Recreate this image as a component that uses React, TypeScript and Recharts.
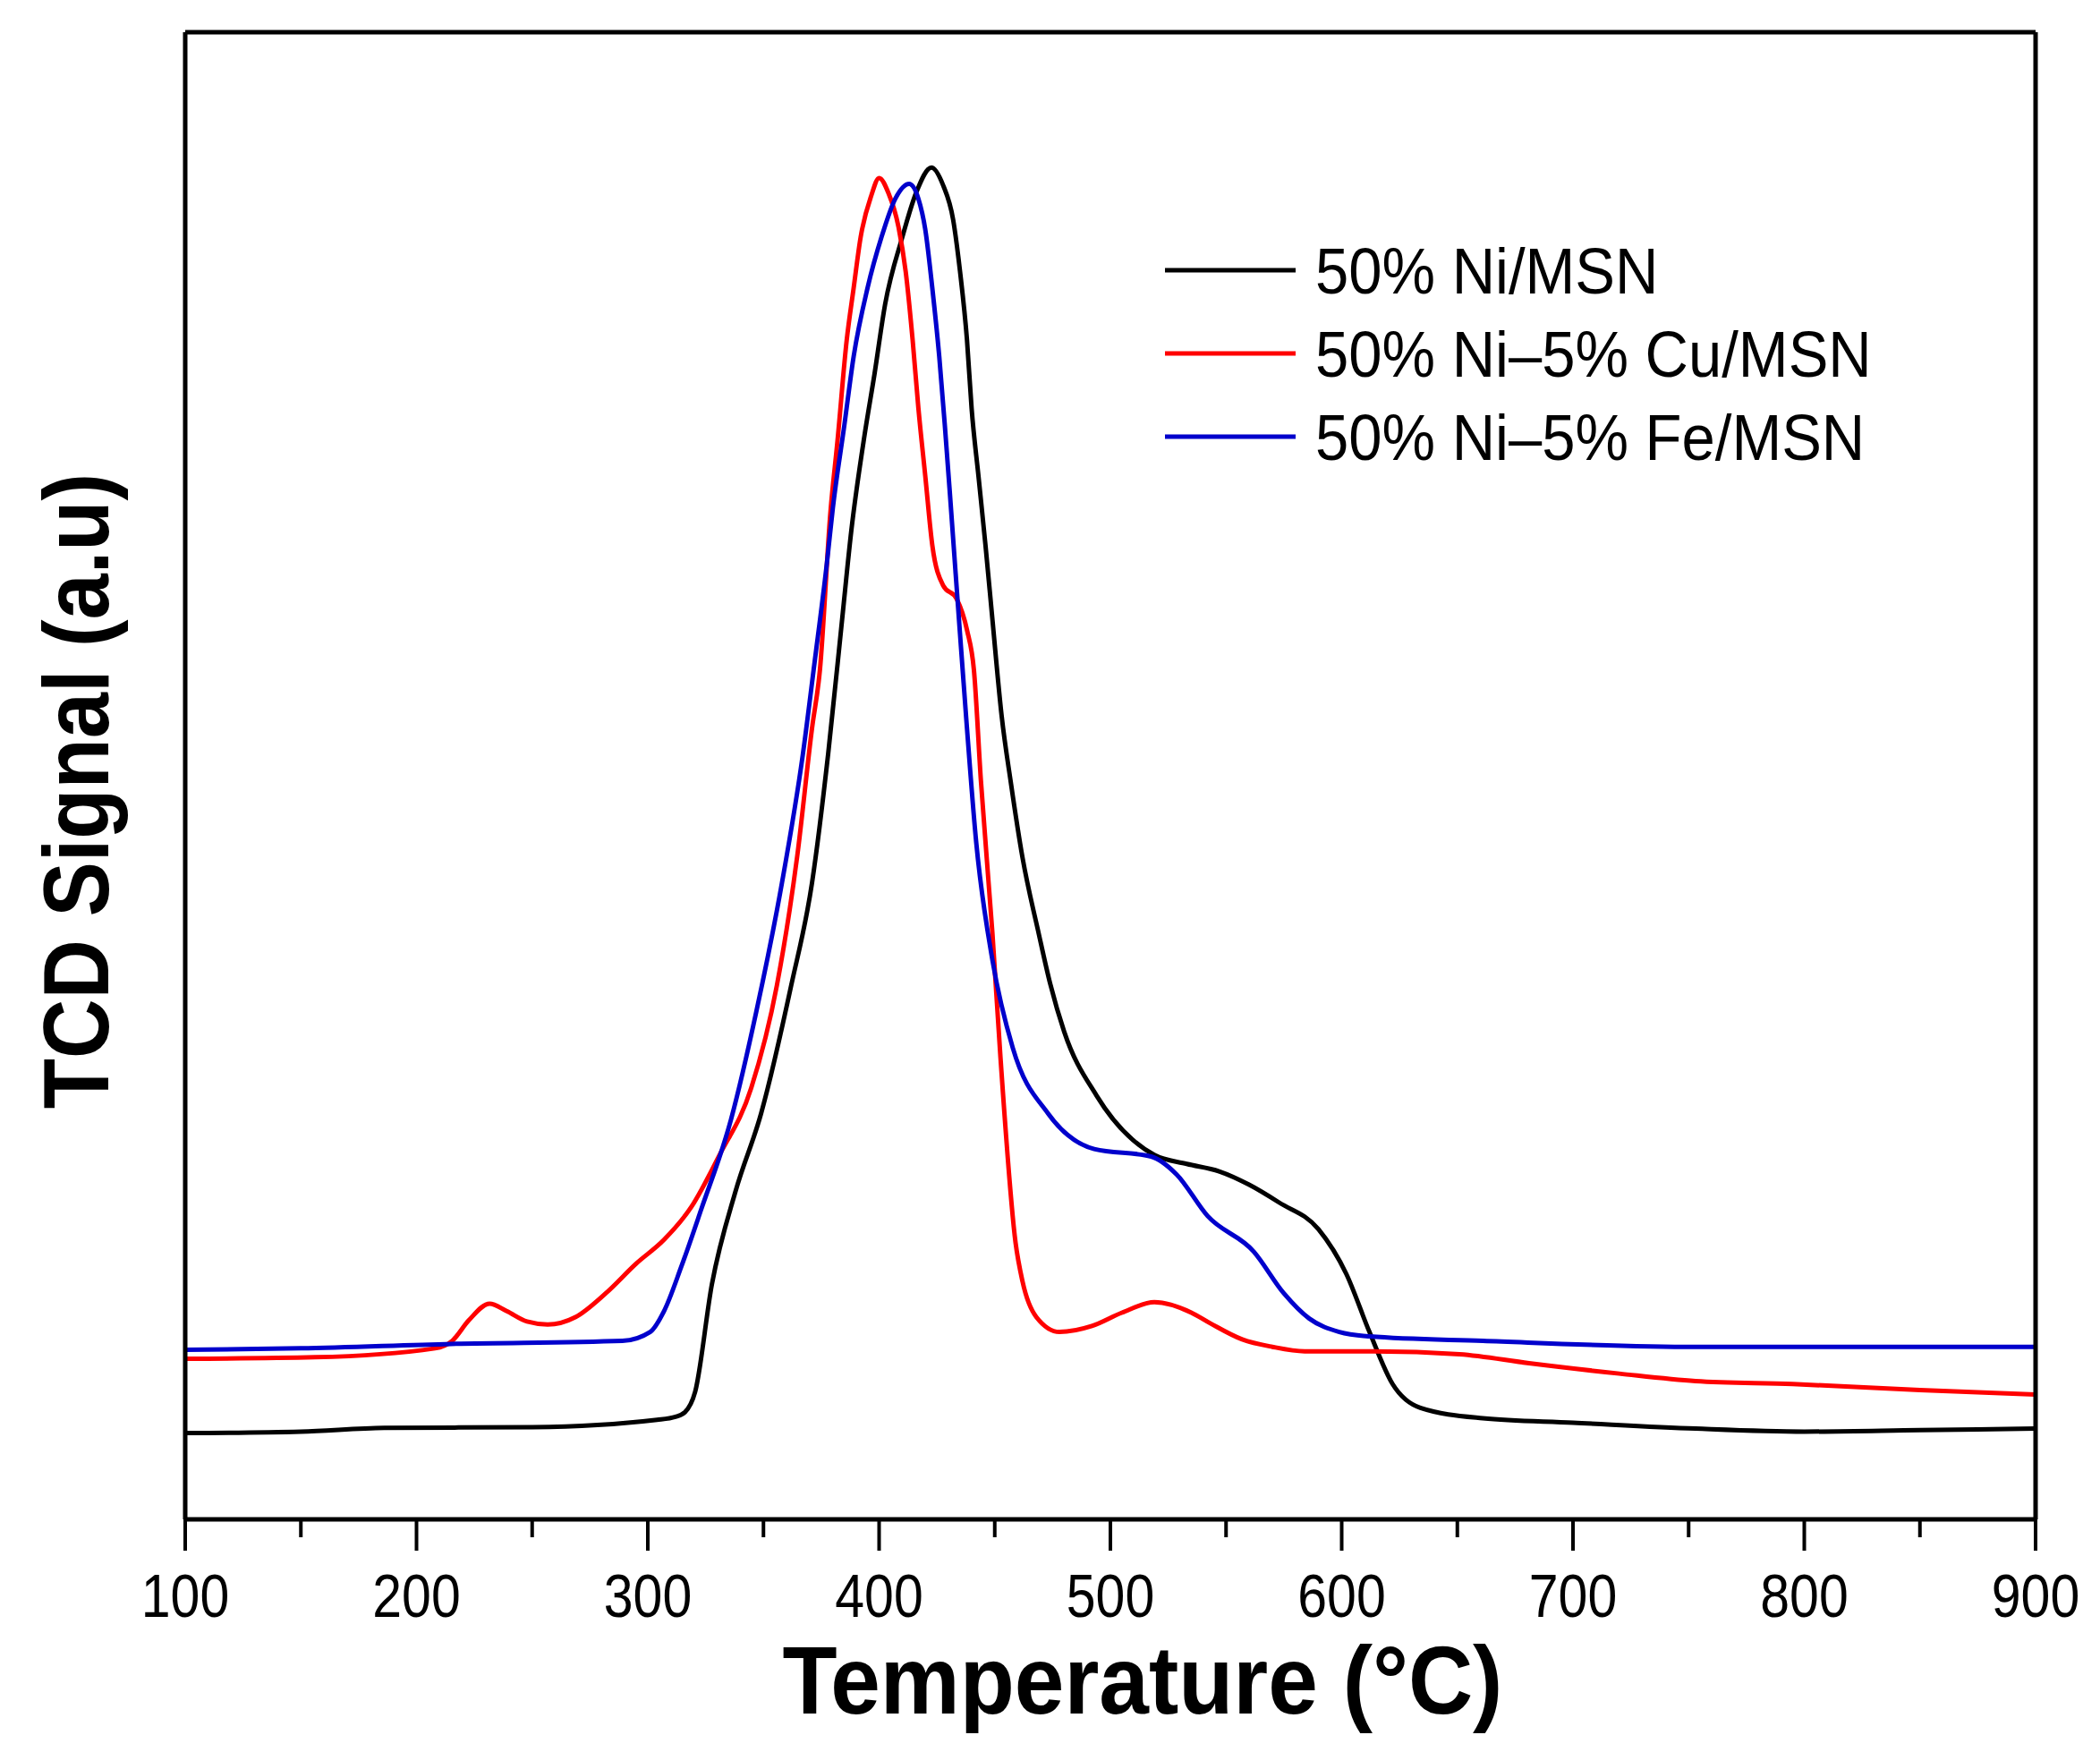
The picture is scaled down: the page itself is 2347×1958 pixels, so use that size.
import { LineChart, Line, XAxis, YAxis } from "recharts";

// readings taken off the TPR plot (signal in arbitrary units, 0-100 = plot height)
const niTemp = [100, 150, 186, 250, 304, 312, 316, 320.5, 327.7, 338, 349, 362, 371, 378, 384, 388, 393.7, 398, 402.6, 410, 416, 422.6, 427.7, 432, 435, 438, 440, 443, 446, 449, 453, 457, 462, 469, 474, 480, 494, 519, 533, 547, 560, 573, 590, 602, 612, 622, 634, 661, 700, 753, 800, 850, 900];
const niSignal = [5.8, 5.9, 6.15, 6.2, 6.7, 6.9, 7.2, 8.6, 15.8, 22.1, 27.3, 35.9, 42.8, 51.5, 60.5, 66.5, 72.9, 77.0, 81.7, 86.2, 89.2, 90.9, 89.7, 87.4, 83.9, 79.3, 74.7, 70.1, 65.5, 60.5, 54.0, 49.5, 44.5, 39.4, 36.0, 32.8, 28.5, 24.5, 23.9, 23.4, 22.5, 21.3, 19.5, 16.5, 12.6, 9.1, 7.5, 6.8, 6.5, 6.1, 5.9, 6.0, 6.1];

const cuTemp = [100, 156, 208, 215.4, 222.7, 231.6, 239, 247.8, 256.7, 268.7, 281.8, 295, 307, 318.8, 331, 344.7, 355.8, 364.6, 371, 374.4, 379, 382, 386, 389, 392, 396.6, 400, 404, 408.4, 411.5, 414.5, 417, 420, 423, 427.7, 433.5, 438, 441, 444, 449, 452.5, 459, 462, 468, 478, 492, 505, 519, 535, 543, 557, 570, 584, 614, 651, 681, 720, 753, 795, 850, 900];
const cuSignal = [10.8, 10.9, 11.5, 12.0, 13.4, 14.5, 14.0, 13.3, 13.1, 13.6, 15.2, 17.2, 18.8, 21.0, 24.5, 29.0, 35.9, 44.6, 53.2, 57.1, 67.8, 72.5, 79.3, 82.8, 86.2, 89.0, 90.2, 89.2, 86.9, 83.9, 79.3, 74.7, 70.1, 65.5, 62.8, 61.9, 59.8, 57.1, 49.7, 39.4, 31.0, 18.6, 16.0, 13.6, 12.6, 13.0, 13.9, 14.6, 13.9, 13.2, 12.1, 11.6, 11.3, 11.3, 11.1, 10.5, 9.8, 9.3, 9.1, 8.7, 8.4];

const feTemp = [100, 150, 215, 289, 301, 307, 314.5, 323, 336, 347, 358, 367, 372, 377.5, 380, 385, 389, 395, 401, 407, 413, 417, 420, 423, 426, 428.4, 430.6, 433, 435, 437.7, 442, 449, 457.8, 473, 493, 517.6, 528.6, 542, 562, 575, 586, 599, 612, 661, 753, 900];
const feSignal = [11.4, 11.5, 11.8, 12.0, 12.6, 14.0, 17.0, 20.8, 26.9, 34.2, 42.8, 51.4, 57.5, 64.4, 68.0, 73.6, 78.2, 82.8, 86.2, 88.8, 89.8, 88.8, 86.7, 82.8, 78.2, 73.6, 69.0, 63.8, 59.5, 53.8, 45.5, 37.6, 31.7, 27.3, 24.9, 24.4, 23.2, 20.4, 18.0, 15.2, 13.5, 12.6, 12.3, 12.0, 11.6, 11.6];

const seriesNames = ["50% Ni/MSN", "50% Ni\u20135% Cu/MSN", "50% Ni\u20135% Fe/MSN"];
const seriesColors = ["#000000", "#ff0000", "#0000cc"];

const xTicks = [100, 150, 200, 250, 300, 350, 400, 450, 500, 550, 600, 650, 700, 750, 800, 850, 900];

const FONT = "'Liberation Sans', Arial, sans-serif";

const toPoints = (temps: number[], signals: number[]) =>
  temps.map((t, i) => ({ t, v: signals[i] }));

const series = [
  { name: seriesNames[0], color: seriesColors[0], data: toPoints(niTemp, niSignal) },
  { name: seriesNames[1], color: seriesColors[1], data: toPoints(cuTemp, cuSignal) },
  { name: seriesNames[2], color: seriesColors[2], data: toPoints(feTemp, feSignal) },
];

const frame = { stroke: "#000", strokeWidth: 5 };

const TempTick = ({ x, y, payload }: any) => {
  const major = payload.value % 100 === 0;
  return (
    <g>
      <line x1={x} x2={x} y1={y} y2={y + (major ? 35 : 20)} stroke="#000" strokeWidth={4} />
      {major && (
        <text
          transform={`translate(${x},${y + 109}) scale(1,1.15)`}
          textAnchor="middle"
          fontSize={59}
          fontFamily={FONT}
          fill="#000"
        >
          {payload.value}
        </text>
      )}
    </g>
  );
};

export default function App() {
  return (
    <div style={{ position: "relative", width: 2347, height: 1958, background: "#fff" }}>
      <style>{"body{margin:0}"}</style>
      <LineChart width={2347} height={1958} margin={{ top: 35, right: 71, left: 206, bottom: 259 }}>
        <XAxis
          type="number"
          dataKey="t"
          domain={[100, 900]}
          allowDataOverflow
          ticks={xTicks}
          interval={0}
          height={1}
          tickSize={0}
          tickMargin={0}
          tickLine={false}
          tick={<TempTick />}
          axisLine={frame}
        />
        <XAxis
          xAxisId="top"
          orientation="top"
          type="number"
          dataKey="t"
          domain={[100, 900]}
          allowDataOverflow
          ticks={xTicks}
          height={1}
          tick={false}
          tickLine={false}
          axisLine={frame}
        />
        <YAxis
          type="number"
          domain={[0, 100]}
          allowDataOverflow
          width={1}
          tick={false}
          tickLine={false}
          axisLine={frame}
        />
        <YAxis
          yAxisId="right"
          orientation="right"
          type="number"
          domain={[0, 100]}
          allowDataOverflow
          width={1}
          tick={false}
          tickLine={false}
          axisLine={frame}
        />
        {series.map((s) => (
          <Line
            key={s.name}
            name={s.name}
            data={s.data}
            dataKey="v"
            type="monotone"
            stroke={s.color}
            strokeWidth={5}
            dot={false}
            activeDot={false}
            isAnimationActive={false}
          />
        ))}
      </LineChart>
      <svg
        width={2347}
        height={1958}
        style={{ position: "absolute", left: 0, top: 0, pointerEvents: "none", overflow: "visible" }}
      >
        {series.map((s, i) => {
          const cy = 302 + 93 * i;
          return (
            <g key={s.name}>
              <line x1={1302} x2={1448} y1={cy} y2={cy} stroke={s.color} strokeWidth={5} />
              <text
                transform={`translate(1470,${cy + 26}) scale(1,1.09)`}
                fontSize={67}
                fontFamily={FONT}
                fill="#000"
              >
                {s.name}
              </text>
            </g>
          );
        })}
        <text
          transform="translate(1277,1915) scale(1,1.08)"
          textAnchor="middle"
          fontSize={100}
          fontWeight="bold"
          fontFamily={FONT}
          fill="#000"
        >
          Temperature (°C)
        </text>
        <text
          transform="translate(121,884) rotate(-90) scale(1,1.12)"
          textAnchor="middle"
          fontSize={92}
          fontWeight="bold"
          fontFamily={FONT}
          fill="#000"
        >
          TCD Signal (a.u)
        </text>
      </svg>
    </div>
  );
}
